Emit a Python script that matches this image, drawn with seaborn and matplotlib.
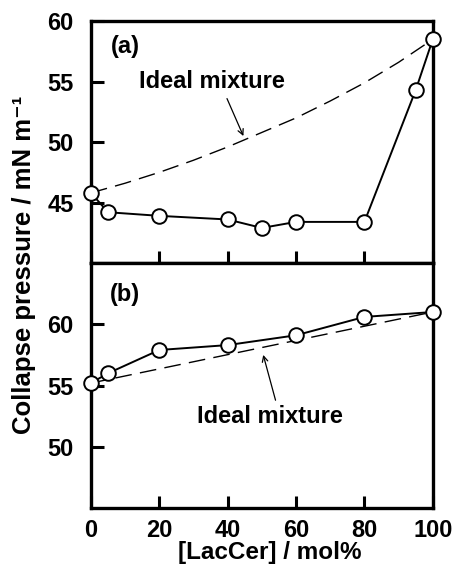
import matplotlib
matplotlib.use("Agg")
import matplotlib.pyplot as plt
import seaborn as sns

sns.set_style("white")
plt.rcParams['font.family'] = ['Liberation Sans', 'DejaVu Sans']
plt.rcParams['font.weight'] = 'bold'
plt.rcParams['text.color'] = 'black'
plt.rcParams['axes.labelcolor'] = 'black'
plt.rcParams['xtick.color'] = 'black'
plt.rcParams['ytick.color'] = 'black'

# Panel (a)
xa = [0, 5, 20, 40, 50, 60, 80, 95, 100]
ya = [45.8, 44.2, 43.9, 43.6, 42.9, 43.4, 43.4, 54.3, 58.5]
ideal_xa = [0, 10, 20, 30, 40, 50, 60, 70, 80, 90, 100]
ideal_ya = [45.8, 46.6, 47.5, 48.5, 49.6, 50.8, 52.0, 53.4, 54.9, 56.6, 58.5]

# Panel (b)
xb = [0, 5, 20, 40, 60, 80, 100]
yb = [55.2, 56.0, 57.9, 58.3, 59.1, 60.6, 61.0]
ideal_xb = [0, 100]
ideal_yb = [55.2, 61.0]

xticks = [0, 20, 40, 60, 80, 100]
yticks_a = [45, 50, 55, 60]
yticks_b = [50, 55, 60]

fig = plt.figure(figsize=(4.57, 5.73), dpi=100)
ax1 = fig.add_axes([0.199, 0.541, 0.748, 0.422])
ax2 = fig.add_axes([0.199, 0.1134, 0.748, 0.4276])

FS = 17

def draw(ax, x, y, ix, iy):
    sns.lineplot(x=ix, y=iy, ax=ax, color='black', lw=1.0, zorder=2)
    sns.lineplot(x=x, y=y, ax=ax, color='black', lw=1.4, marker='o', markersize=10.5,
                 markerfacecolor='white', markeredgecolor='black', markeredgewidth=1.4,
                 zorder=3)
    for l in ax.lines:
        l.set_clip_on(False)
    ax.lines[0].set_linestyle((0, (12, 6)))
    ax.set_xlim(0, 100)
    for s in ax.spines.values():
        s.set_linewidth(2.4)
        s.set_color('black')
    ax.tick_params(axis='both', direction='in', length=9, width=2.2, labelsize=FS,
                   colors='black')
    ax.tick_params(axis='x', bottom=True, top=False, pad=8)
    ax.tick_params(axis='y', left=True, right=False, pad=12.5)
    ax.set_xlabel('')
    ax.set_ylabel('')

def arrow(ax, start, end):
    ax.annotate('', xy=end, xytext=start,
                arrowprops=dict(arrowstyle='->', color='black', lw=0.9,
                                shrinkA=0, shrinkB=0))

draw(ax1, xa, ya, ideal_xa, ideal_ya)
ax1.set_ylim(40, 60)
ax1.set_xticks(xticks)
ax1.set_xticklabels([])
ax1.set_yticks(yticks_a)
ax1.set_yticklabels([str(v) for v in yticks_a], fontweight='bold', fontsize=FS)
ax1.text(10, 57.9, '(a)', fontsize=FS, fontweight='bold', ha='center', va='center')
ax1.text(35.5, 55.0, 'Ideal mixture', fontsize=FS, fontweight='bold',
         ha='center', va='center')
arrow(ax1, (39.8, 53.6), (44.6, 50.5))

draw(ax2, xb, yb, ideal_xb, ideal_yb)
ax2.set_ylim(45, 65)
ax2.set_xticks(xticks)
ax2.set_xticklabels([str(v) for v in xticks], fontweight='bold', fontsize=FS)
ax2.set_yticks(yticks_b)
ax2.set_yticklabels([str(v) for v in yticks_b], fontweight='bold', fontsize=FS)
ax2.text(10, 62.4, '(b)', fontsize=FS, fontweight='bold', ha='center', va='center')
ax2.text(52.5, 52.5, 'Ideal mixture', fontsize=FS, fontweight='bold',
         ha='center', va='center')
arrow(ax2, (54.0, 53.8), (50.4, 57.5))

fig.text(270 / 457, 1 - 553 / 573, '[LacCer] / mol%', fontsize=17.5,
         fontweight='bold', ha='center', va='center')
fig.text(24 / 457, 1 - 265 / 573, 'Collapse pressure / mN m\u207b\u00b9', fontsize=18.5,
         fontweight='bold', ha='center', va='center', rotation=90)

fig.savefig('out.png', dpi=100)
